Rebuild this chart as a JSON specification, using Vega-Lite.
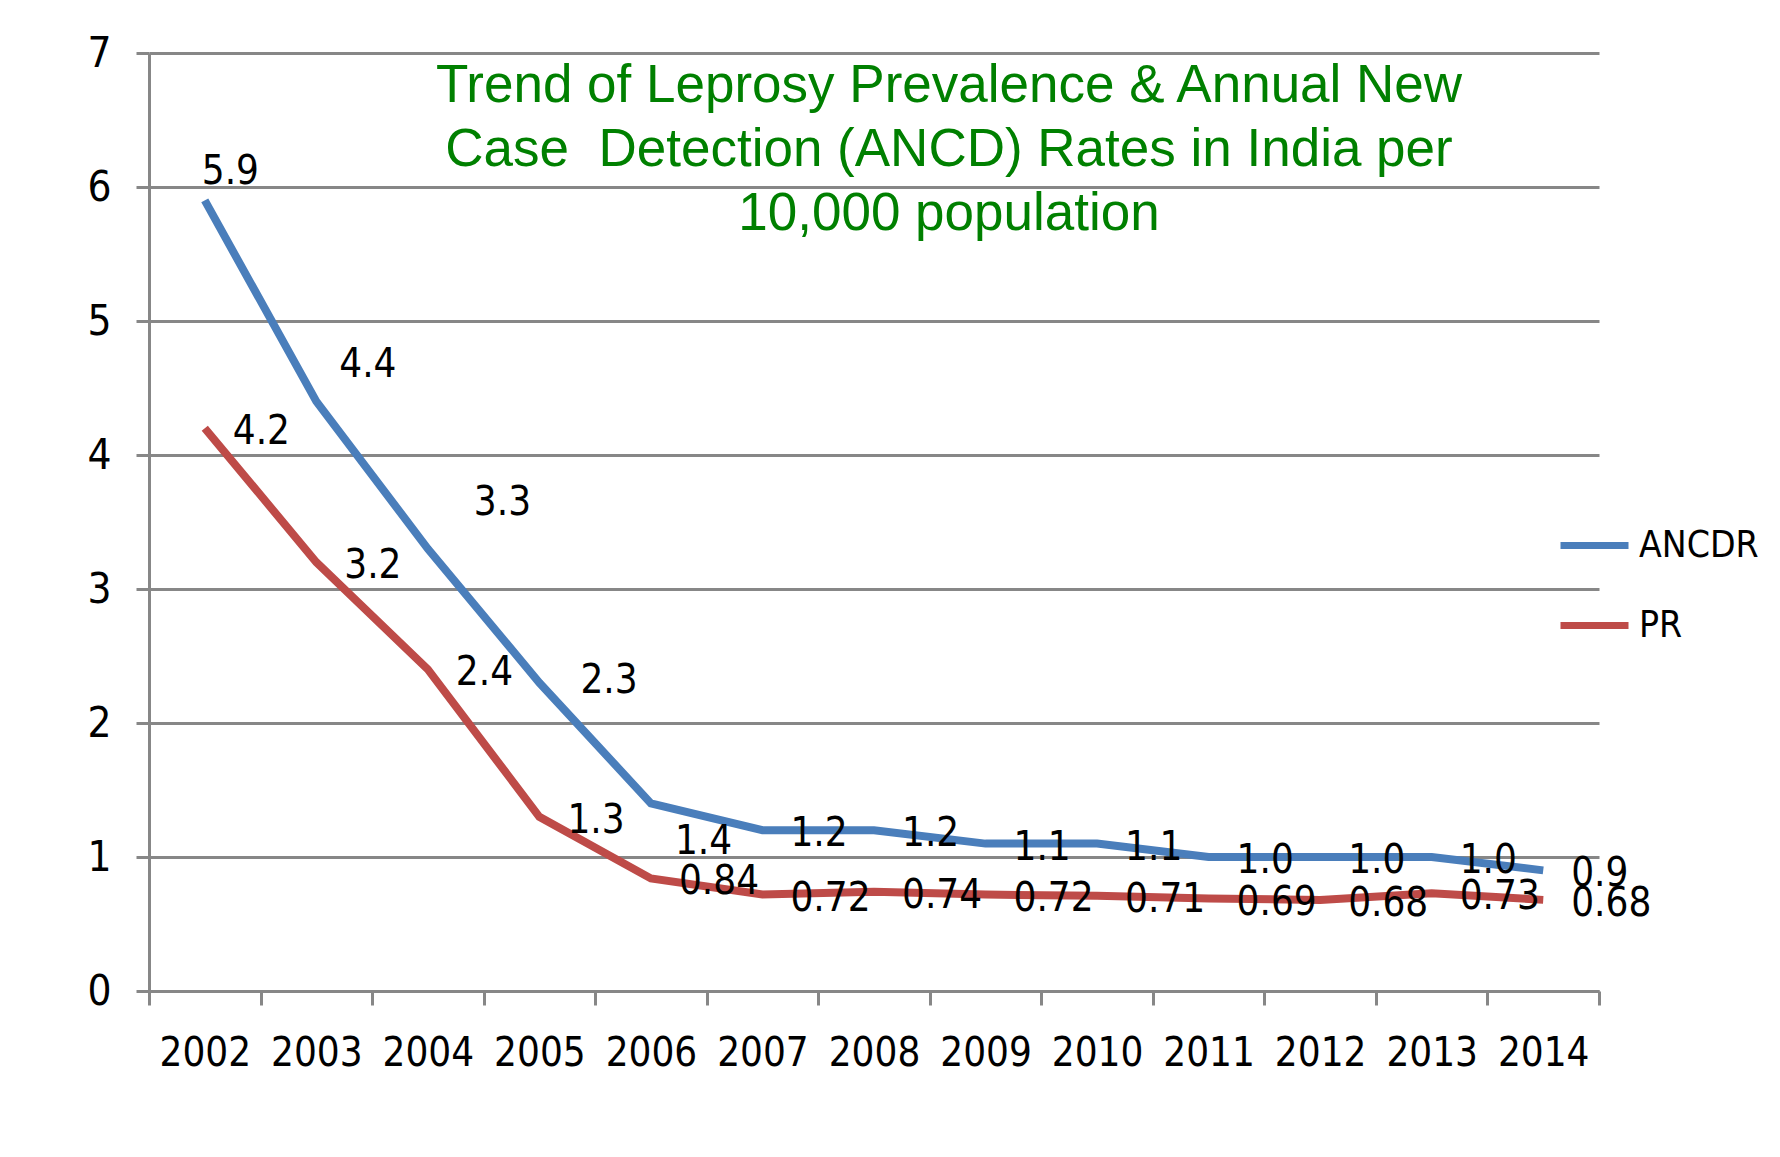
{
  "$schema": "https://vega.github.io/schema/vega-lite/v6.json",
  "width": 1450,
  "height": 938,
  "autosize": "none",
  "padding": {"left": 149, "top": 53, "right": 181, "bottom": 166},
  "background": "white",
  "title": {
    "text": ["Trend of Leprosy Prevalence & Annual New", "Case\u00a0 Detection (ANCD) Rates in India per", "10,000 population"],
    "anchor": "middle", "frame": "group", "orient": "top", "offset": 0,
    "dy": 251, "dx": 75, "baseline": "alphabetic",
    "font": "Liberation Sans, Arial, sans-serif", "fontSize": 53, "fontWeight": "normal",
    "color": "#008000", "lineHeight": 64
  },
  "data": {
    "values": [
      {"year": "2002", "series": "ANCDR", "value": 5.9, "label": "5.9"},
      {"year": "2003", "series": "ANCDR", "value": 4.4, "label": "4.4"},
      {"year": "2004", "series": "ANCDR", "value": 3.3, "label": "3.3"},
      {"year": "2005", "series": "ANCDR", "value": 2.3, "label": "2.3"},
      {"year": "2006", "series": "ANCDR", "value": 1.4, "label": "1.4"},
      {"year": "2007", "series": "ANCDR", "value": 1.2, "label": "1.2"},
      {"year": "2008", "series": "ANCDR", "value": 1.2, "label": "1.2"},
      {"year": "2009", "series": "ANCDR", "value": 1.1, "label": "1.1"},
      {"year": "2010", "series": "ANCDR", "value": 1.1, "label": "1.1"},
      {"year": "2011", "series": "ANCDR", "value": 1.0, "label": "1.0"},
      {"year": "2012", "series": "ANCDR", "value": 1.0, "label": "1.0"},
      {"year": "2013", "series": "ANCDR", "value": 1.0, "label": "1.0"},
      {"year": "2014", "series": "ANCDR", "value": 0.9, "label": "0.9"},
      {"year": "2002", "series": "PR", "value": 4.2, "label": "4.2"},
      {"year": "2003", "series": "PR", "value": 3.2, "label": "3.2"},
      {"year": "2004", "series": "PR", "value": 2.4, "label": "2.4"},
      {"year": "2005", "series": "PR", "value": 1.3, "label": "1.3"},
      {"year": "2006", "series": "PR", "value": 0.84, "label": "0.84"},
      {"year": "2007", "series": "PR", "value": 0.72, "label": "0.72"},
      {"year": "2008", "series": "PR", "value": 0.74, "label": "0.74"},
      {"year": "2009", "series": "PR", "value": 0.72, "label": "0.72"},
      {"year": "2010", "series": "PR", "value": 0.71, "label": "0.71"},
      {"year": "2011", "series": "PR", "value": 0.69, "label": "0.69"},
      {"year": "2012", "series": "PR", "value": 0.68, "label": "0.68"},
      {"year": "2013", "series": "PR", "value": 0.73, "label": "0.73"},
      {"year": "2014", "series": "PR", "value": 0.68, "label": "0.68"}
    ]
  },
  "encoding": {
    "x": {
      "field": "year", "type": "ordinal", "bandPosition": 0.5,
      "scale": {"type": "band", "paddingInner": 0, "paddingOuter": 0},
      "axis": {
        "title": null, "labelAngle": 0, "tickBand": "extent",
        "labelFont": "DejaVu Sans Condensed, sans-serif",
        "labelFontSize": 40, "labelColor": "black", "labelPadding": 28,
        "tickSize": 14, "tickColor": "#878787", "tickWidth": 3,
        "domainColor": "#878787", "domainWidth": 3, "grid": false
      }
    },
    "y": {
      "field": "value", "type": "quantitative",
      "scale": {"domain": [0, 7], "nice": false},
      "axis": {
        "title": null, "values": [0, 1, 2, 3, 4, 5, 6, 7],
        "grid": true, "gridColor": "#878787", "gridWidth": 3,
        "tickSize": 13, "tickColor": "#878787", "tickWidth": 3,
        "domainColor": "#878787", "domainWidth": 3,
        "labelFont": "DejaVu Sans Condensed, sans-serif",
        "labelFontSize": 42, "labelColor": "black", "labelPadding": 25
      }
    }
  },
  "layer": [
    {
      "mark": {"type": "line", "strokeWidth": 8},
      "encoding": {
        "color": {
          "field": "series", "type": "nominal",
          "scale": {"domain": ["ANCDR", "PR"], "range": ["#4a7ebb", "#be4b48"]},
          "legend": {
            "title": null, "orient": "none", "legendX": 1408, "legendY": 455,
            "symbolType": "stroke", "symbolSize": 4624, "symbolStrokeWidth": 7,
            "labelFont": "DejaVu Sans Condensed, sans-serif",
            "labelFontSize": 37, "labelColor": "black", "labelOffset": 7,
            "rowPadding": 24, "padding": 0
          }
        }
      }
    },
    {
      "transform": [{"filter": "datum.series == 'PR'"}],
      "mark": {"type": "text", "align": "left", "baseline": "middle", "dx": 28, "dy": 4, "font": "DejaVu Sans Condensed, sans-serif", "fontSize": 40, "color": "black"},
      "encoding": {"text": {"field": "label"}}
    },
    {
      "transform": [{"filter": "datum.series == 'ANCDR' && toNumber(datum.year) >= 2007"}],
      "mark": {"type": "text", "align": "left", "baseline": "middle", "dx": 28, "dy": 4, "font": "DejaVu Sans Condensed, sans-serif", "fontSize": 40, "color": "black"},
      "encoding": {"text": {"field": "label"}}
    },
    {
      "transform": [{"filter": "datum.series == 'ANCDR' && datum.year == '2002'"}],
      "mark": {"type": "text", "align": "left", "baseline": "middle", "dx": -3, "dy": -28, "font": "DejaVu Sans Condensed, sans-serif", "fontSize": 40, "color": "black"},
      "encoding": {"text": {"field": "label"}}
    },
    {
      "transform": [{"filter": "datum.series == 'ANCDR' && datum.year == '2003'"}],
      "mark": {"type": "text", "align": "left", "baseline": "middle", "dx": 23, "dy": -36, "font": "DejaVu Sans Condensed, sans-serif", "fontSize": 40, "color": "black"},
      "encoding": {"text": {"field": "label"}}
    },
    {
      "transform": [{"filter": "datum.series == 'ANCDR' && datum.year == '2004'"}],
      "mark": {"type": "text", "align": "left", "baseline": "middle", "dx": 46, "dy": -46, "font": "DejaVu Sans Condensed, sans-serif", "fontSize": 40, "color": "black"},
      "encoding": {"text": {"field": "label"}}
    },
    {
      "transform": [{"filter": "datum.series == 'ANCDR' && datum.year == '2005'"}],
      "mark": {"type": "text", "align": "left", "baseline": "middle", "dx": 41, "dy": -2, "font": "DejaVu Sans Condensed, sans-serif", "fontSize": 40, "color": "black"},
      "encoding": {"text": {"field": "label"}}
    },
    {
      "transform": [{"filter": "datum.series == 'ANCDR' && datum.year == '2006'"}],
      "mark": {"type": "text", "align": "left", "baseline": "middle", "dx": 24, "dy": 39, "font": "DejaVu Sans Condensed, sans-serif", "fontSize": 40, "color": "black"},
      "encoding": {"text": {"field": "label"}}
    }
  ],
  "config": {"view": {"stroke": null}}
}
